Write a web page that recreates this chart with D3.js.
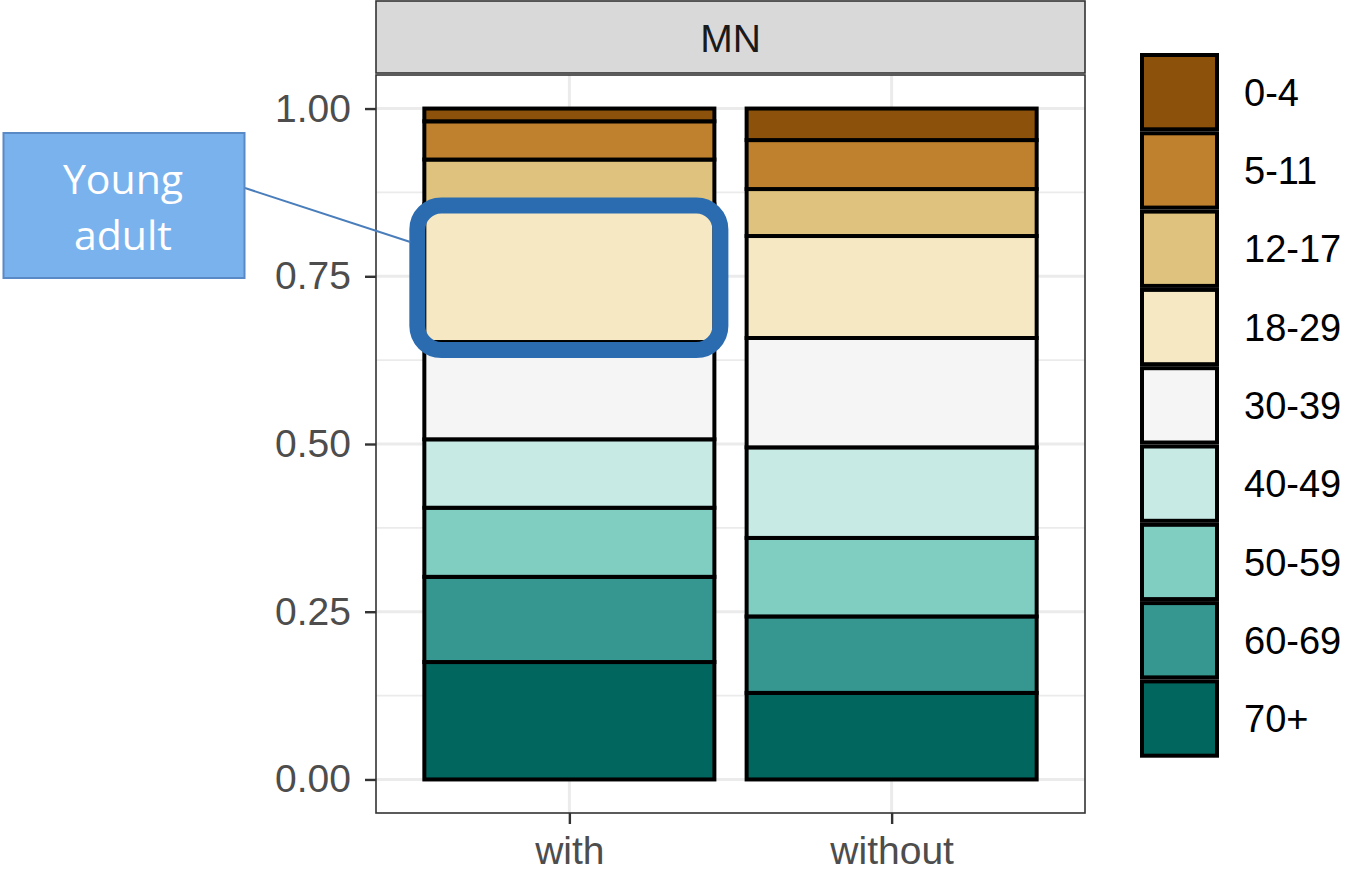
<!DOCTYPE html>
<html><head><meta charset="utf-8">
<script src="https://cdn.jsdelivr.net/npm/d3@7"></script>
<style>body{margin:0;background:#fff}svg{display:block}</style>
</head><body>
<svg id="c" width="1357" height="879"></svg>
<script>
const categories = ["with", "without"];
const ageGroups = ["0-4","5-11","12-17","18-29","30-39","40-49","50-59","60-69","70+"];
const withShares    = [0.019,0.057,0.067,0.205,0.145,0.102,0.103,0.127,0.175];
const withoutShares = [0.047,0.073,0.070,0.152,0.163,0.135,0.117,0.114,0.129];
const palette = ["#8C510A","#BF812D","#DFC27D","#F6E8C3","#F5F5F5","#C7EAE5","#80CDC1","#35978F","#01665E"];
const yTicks = [0, 0.25, 0.5, 0.75, 1.0];
const yMinor = [0.125, 0.375, 0.625, 0.875];
const facetLabel = "MN";
const calloutLines = ["Young", "adult"];

const svg = d3.select("#c");
const P = {left: 376, right: 1085, top: 75, bottom: 813};
const font = "'Liberation Sans', Arial, sans-serif";

const rows = categories.map((c, i) => {
  const o = {cat: c};
  const vals = i === 0 ? withShares : withoutShares;
  ageGroups.forEach((g, j) => o[g] = vals[j]);
  return o;
});

// ggplot-like discrete: continuous positions 1..n, expand 0.6
const xc = d3.scaleLinear().domain([0.4, categories.length + 0.6]).range([P.left, P.right]);
const xPos = c => xc(categories.indexOf(c) + 1);
const bw = xc(1.45) - xc(1);
const y = d3.scaleLinear().domain([-0.05, 1.05]).range([P.bottom, P.top]);
const color = d3.scaleOrdinal().domain(ageGroups).range(palette);

// strip
svg.append("rect").attr("x", P.left).attr("y", 1).attr("width", P.right - P.left).attr("height", 72)
  .attr("fill", "#D9D9D9").attr("stroke", "#333").attr("stroke-width", 1.6);
svg.append("text").attr("x", (P.left + P.right)/2).attr("y", 38).attr("dy", "0.35em")
  .attr("text-anchor", "middle").attr("font-family", font).attr("font-size", 39).attr("fill", "#1A1A1A").text(facetLabel);

// panel bg & grid
svg.append("rect").attr("x", P.left).attr("y", P.top).attr("width", P.right - P.left).attr("height", P.bottom - P.top).attr("fill", "#fff");
const g = svg.append("g");
g.selectAll(".minor").data(yMinor).join("line")
  .attr("x1", P.left).attr("x2", P.right).attr("y1", d => y(d)).attr("y2", d => y(d))
  .attr("stroke", "#EBEBEB").attr("stroke-width", 1.6);
g.selectAll(".major").data(yTicks).join("line")
  .attr("x1", P.left).attr("x2", P.right).attr("y1", d => y(d)).attr("y2", d => y(d))
  .attr("stroke", "#EBEBEB").attr("stroke-width", 3);
g.selectAll(".vmajor").data(categories).join("line")
  .attr("x1", d => xPos(d)).attr("x2", d => xPos(d)).attr("y1", P.top).attr("y2", P.bottom)
  .attr("stroke", "#EBEBEB").attr("stroke-width", 3);

// bars
const stack = d3.stack().keys(ageGroups.slice().reverse());
const series = stack(rows);
const bars = svg.append("g");
series.forEach(s => {
  bars.selectAll(null).data(s).join("rect")
    .attr("x", d => xPos(d.data.cat) - bw)
    .attr("width", bw * 2)
    .attr("y", d => y(d[1]))
    .attr("height", d => y(d[0]) - y(d[1]))
    .attr("fill", color(s.key))
    .attr("stroke", "#000").attr("stroke-width", 4);
});

// panel border
svg.append("rect").attr("x", P.left).attr("y", P.top).attr("width", P.right - P.left).attr("height", P.bottom - P.top)
  .attr("fill", "none").attr("stroke", "#333").attr("stroke-width", 1.6);

// axes
const yAxis = d3.axisLeft(y).tickValues(yTicks).tickFormat(d3.format(".2f")).tickSize(11).tickPadding(14);
const ya = svg.append("g").attr("transform", `translate(${P.left},0)`).call(yAxis);
ya.select(".domain").remove();
ya.selectAll("line").attr("stroke", "#333").attr("stroke-width", 2.4);
ya.selectAll("text").attr("font-family", font).attr("font-size", 39).attr("fill", "#4D4D4D");

const xAxis = d3.axisBottom(xc).tickValues(categories.map((c,i)=>i+1)).tickFormat(i => categories[i-1]).tickSize(11).tickPadding(12);
const xa = svg.append("g").attr("transform", `translate(0,${P.bottom})`).call(xAxis);
xa.select(".domain").remove();
xa.selectAll("line").attr("stroke", "#333").attr("stroke-width", 2.4);
xa.selectAll("text").attr("font-family", font).attr("font-size", 39).attr("fill", "#4D4D4D");

// legend
const L = {x: 1142, y: 53, w: 75, h: 78.3};
const leg = svg.append("g");
ageGroups.forEach((a, i) => {
  leg.append("rect").attr("x", L.x).attr("y", L.y + i * L.h + 2).attr("width", L.w).attr("height", L.h - 4)
    .attr("fill", color(a)).attr("stroke", "#000").attr("stroke-width", 4);
  leg.append("text").attr("x", 1244).attr("y", L.y + i * L.h + L.h/2).attr("dy", "0.36em")
    .attr("font-family", font).attr("font-size", 38).attr("fill", "#000").text(a);
});

// highlight box around "with" 18-29 segment
const seg = series.find(s => s.key === "18-29")[0];
const hx0 = xPos("with") - bw - 7, hx1 = xPos("with") + bw + 6;
const hy0 = y(seg[1]) + 1, hy1 = y(seg[0]) + 8;
svg.append("rect").attr("x", hx0).attr("y", hy0).attr("width", hx1 - hx0).attr("height", hy1 - hy0)
  .attr("rx", 24).attr("ry", 24).attr("fill", "none").attr("stroke", "#2B6CB1").attr("stroke-width", 16);

// callout
svg.append("line").attr("x1", 245).attr("y1", 188).attr("x2", hx0 - 7).attr("y2", 242)
  .attr("stroke", "#4A7EBB").attr("stroke-width", 2);
svg.append("rect").attr("x", 3.5).attr("y", 133).attr("width", 241).attr("height", 145)
  .attr("fill", "#7AB2EE").attr("stroke", "#5A8AC6").attr("stroke-width", 2);
calloutLines.forEach((t, i) => {
  svg.append("text").attr("x", 123).attr("y", 194 + i * 56).attr("text-anchor", "middle")
    .attr("font-family", "'Open Sans','Noto Sans',sans-serif").attr("font-size", 41).attr("fill", "#fff").text(t);
});
</script>
</body></html>
